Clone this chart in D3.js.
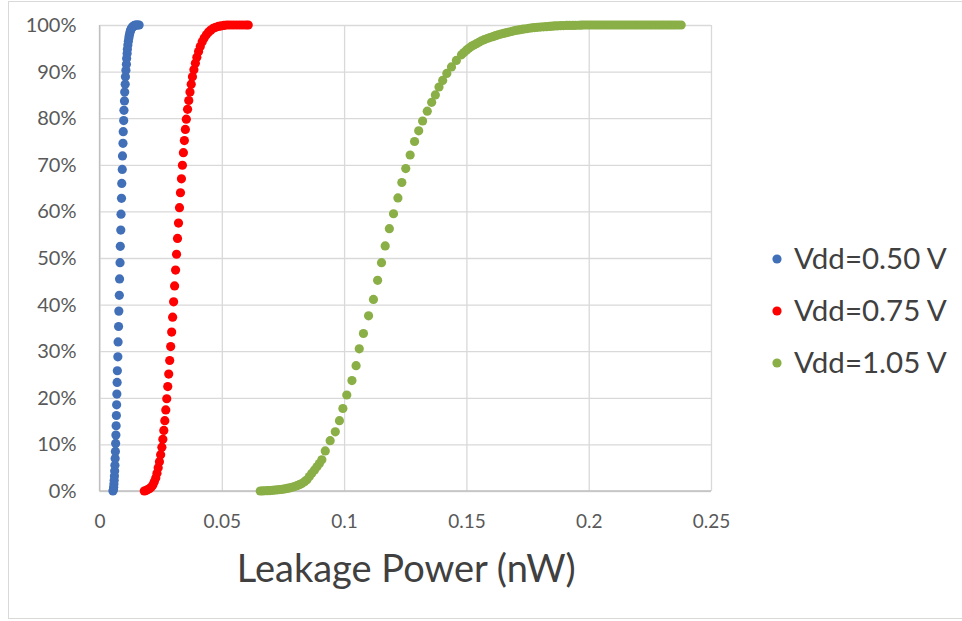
<!DOCTYPE html>
<html>
<head>
<meta charset="utf-8">
<script src="https://cdn.jsdelivr.net/npm/d3@7"></script>
<style>
  html, body { margin: 0; padding: 0; background: #fff; }
  svg { display: block; }
</style>
</head>
<body>
<svg id="chart" width="962" height="621"></svg>
<script>
// Cumulative distribution of leakage power at three supply voltages.
// Each point: [leakage power in nW, cumulative share in percent].

const seriesNames = ["Vdd=0.50 V", "Vdd=0.75 V", "Vdd=1.05 V"];
const seriesColors = ["#4270B8", "#FF0000", "#8AAF47"];

const vdd050 = [
  [0.0055,0],[0.0057,0.3],[0.0058,0.8],[0.0059,1.5],[0.0060,2.3],[0.0061,3.2],[0.0062,4.3],
  [0.0063,5.5],[0.0064,7.0],[0.0065,8.5],[0.0066,10.2],[0.0067,12.0],[0.0068,14.0],[0.0069,16.2],
  [0.0070,18.5],[0.0071,20.8],[0.0072,23.3],[0.0073,25.8],[0.0075,28.8],[0.0076,32.0],[0.0078,35.3],
  [0.0079,38.6],[0.0081,42.0],[0.0082,45.5],[0.0084,49.0],[0.0085,52.5],[0.0087,56.0],[0.0088,59.4],
  [0.0090,62.8],[0.0091,66.0],[0.0093,69.0],[0.0094,71.9],[0.0096,74.6],[0.0097,77.1],[0.0099,79.5],
  [0.0100,81.7],[0.0102,83.7],[0.0103,85.6],[0.0105,87.3],[0.0106,88.9],[0.0108,90.3],[0.0110,91.6],
  [0.0111,92.8],[0.0113,93.9],[0.0114,94.8],[0.0116,95.7],[0.0118,96.5],[0.0120,97.2],[0.0122,97.8],
  [0.0124,98.3],[0.0126,98.7],[0.0128,99.0],[0.0131,99.3],[0.0134,99.5],[0.0137,99.7],[0.0140,99.8],
  [0.0144,99.9],[0.0148,100],[0.0152,100],[0.0157,100],[0.0162,100]
];

const vdd075 = [
  [0.0183,0],[0.0190,0.1],[0.0197,0.3],[0.0204,0.5],[0.0211,0.8],[0.0218,1.3],[0.0224,2.0],
  [0.0230,2.8],[0.0235,3.8],[0.0240,5.0],[0.0245,6.3],[0.0250,7.8],[0.0255,9.4],[0.0259,11.1],
  [0.0263,13.0],[0.0267,15.1],[0.0271,17.4],[0.0275,19.8],[0.0279,22.4],[0.0283,25.1],[0.0287,28.0],
  [0.0291,31.0],[0.0295,34.1],[0.0299,37.3],[0.0303,40.6],[0.0307,44.0],[0.0311,47.4],[0.0315,50.8],
  [0.0319,54.2],[0.0323,57.5],[0.0327,60.8],[0.0331,64.0],[0.0335,67.0],[0.0339,69.9],[0.0343,72.6],
  [0.0347,75.2],[0.0351,77.6],[0.0355,79.8],[0.0360,81.9],[0.0365,83.8],[0.0370,85.6],[0.0375,87.3],
  [0.0380,88.9],[0.0386,90.4],[0.0392,91.8],[0.0398,93.1],[0.0405,94.3],[0.0412,95.4],[0.0420,96.4],
  [0.0428,97.2],[0.0437,97.9],[0.0446,98.5],[0.0455,98.9],[0.0465,99.3],[0.0475,99.5],[0.0486,99.7],
  [0.0497,99.8],[0.0509,99.9],[0.0521,100],[0.0533,100],[0.0546,100],[0.0559,100],[0.0572,100],
  [0.0585,100],[0.0598,100],[0.0608,100]
];

const vdd105 = [
  [0.0657,0],[0.0667,0.02],[0.0677,0.05],[0.0687,0.08],[0.0697,0.1],[0.0707,0.15],[0.0717,0.2],
  [0.0727,0.25],[0.0737,0.3],[0.0747,0.35],[0.0757,0.45],[0.0767,0.55],[0.0777,0.65],[0.0787,0.8],
  [0.0797,0.95],[0.0807,1.15],[0.0817,1.35],[0.0827,1.6],[0.0838,2.0],[0.0848,2.4],[0.0858,3.1],
  [0.0868,3.8],[0.0879,4.5],[0.0889,5.2],[0.0899,5.9],[0.0909,6.7],[0.0923,8.6],[0.0943,10.8],
  [0.0964,12.7],[0.0981,15.1],[0.0995,17.7],[0.1011,20.6],[0.1032,23.7],[0.1049,26.9],[0.1062,30.5],
  [0.1079,33.8],[0.1100,37.6],[0.1120,41.1],[0.1137,45.2],[0.1153,49.0],[0.1168,52.6],[0.1185,56.3],
  [0.1202,59.5],[0.1220,62.9],[0.1236,66.2],[0.1252,69.2],[0.1270,72.1],[0.1288,75.0],[0.1305,77.3],
  [0.1321,79.4],[0.1340,81.5],[0.1358,83.4],[0.1373,85.0],[0.1388,86.7],[0.1403,88.1],[0.1420,89.6],
  [0.1439,91.0],[0.1459,92.4],[0.1480,93.6],[0.1490,94.1],[0.1500,94.6],[0.1510,95.0],[0.1520,95.4],
  [0.1530,95.7],[0.1541,96.0],[0.1551,96.3],[0.1562,96.6],[0.1573,96.85],[0.1585,97.1],[0.1596,97.3],
  [0.1608,97.5],[0.1619,97.7],[0.1630,97.9],[0.1641,98.05],[0.1652,98.2],[0.1664,98.35],[0.1675,98.5],
  [0.1687,98.65],[0.1698,98.8],[0.1709,98.9],[0.1720,99.0],[0.1732,99.1],[0.1745,99.2],[0.1756,99.3],
  [0.1768,99.4],[0.1779,99.45],[0.1790,99.5],[0.1802,99.55],[0.1815,99.6],[0.1827,99.65],[0.1840,99.7],
  [0.1851,99.75],[0.1862,99.8],[0.1873,99.82],[0.1885,99.85],[0.1897,99.87],[0.1910,99.9],[0.1922,99.9],
  [0.1935,99.92],[0.1946,99.94],[0.1958,99.95],[0.1969,99.97],[0.1980,100],[0.1991,100],[0.2002,100],
  [0.2013,100],[0.2024,100],[0.2035,100],[0.2046,100],[0.2057,100],[0.2068,100],[0.2079,100],
  [0.2090,100],[0.2101,100],[0.2112,100],[0.2123,100],[0.2134,100],[0.2145,100],[0.2156,100],
  [0.2167,100],[0.2178,100],[0.2189,100],[0.2200,100],[0.2211,100],[0.2222,100],[0.2233,100],
  [0.2244,100],[0.2255,100],[0.2266,100],[0.2277,100],[0.2288,100],[0.2299,100],[0.2310,100],
  [0.2321,100],[0.2332,100],[0.2343,100],[0.2354,100],[0.2366,100],[0.2378,100]
];

const xTickValues = [0, 0.05, 0.1, 0.15, 0.2, 0.25];
const xTickLabels = ["0", "0.05", "0.1", "0.15", "0.2", "0.25"];
const yTickValues = [0, 10, 20, 30, 40, 50, 60, 70, 80, 90, 100];
const yTickLabels = ["0%", "10%", "20%", "30%", "40%", "50%", "60%", "70%", "80%", "90%", "100%"];
const xTitle = "Leakage Power (nW)";

const seriesData = [vdd050, vdd075, vdd105].map((points, i) => ({
  name: seriesNames[i], color: seriesColors[i], points
}));

const svg = d3.select("#chart");
const font = "Lato, 'Open Sans', sans-serif";

// outer chart frame
svg.append("rect")
  .attr("x", 8.5).attr("y", 1.5)
  .attr("width", 960).attr("height", 617)
  .attr("fill", "#fff").attr("stroke", "#D9D9D9").attr("stroke-width", 1);

const plot = { left: 99.5, right: 711, top: 25, bottom: 491 };
const x = d3.scaleLinear().domain([0, 0.25]).range([plot.left, plot.right]);
const y = d3.scaleLinear().domain([0, 100]).range([plot.bottom, plot.top]);

// horizontal gridlines + percentage labels
const yAxis = d3.axisLeft(y)
  .tickValues(yTickValues)
  .tickFormat((d, i) => yTickLabels[i])
  .tickSize(-(plot.right - plot.left))
  .tickPadding(23);
const gy = svg.append("g").attr("transform", `translate(${plot.left},0)`).call(yAxis);
gy.select(".domain").remove();
gy.selectAll(".tick line").attr("stroke", "#D9D9D9").attr("stroke-width", 1.3);
gy.selectAll(".tick text")
  .attr("fill", "#595959")
  .style("font-family", font)
  .style("font-size", "20px");

// vertical gridlines + power labels
const xAxis = d3.axisBottom(x)
  .tickValues(xTickValues)
  .tickFormat((d, i) => xTickLabels[i])
  .tickSize(-(plot.bottom - plot.top))
  .tickPadding(24);
const gx = svg.append("g").attr("transform", `translate(0,${plot.bottom})`).call(xAxis);
gx.select(".domain").remove();
gx.selectAll(".tick line").attr("stroke", "#D9D9D9").attr("stroke-width", 1.3);
gx.selectAll(".tick text")
  .attr("fill", "#595959")
  .style("font-family", font)
  .style("font-size", "19px");

// axis lines
svg.append("line")
  .attr("x1", plot.left).attr("x2", plot.left)
  .attr("y1", plot.top).attr("y2", plot.bottom)
  .attr("stroke", "#BFBFBF").attr("stroke-width", 1.3);
svg.append("line")
  .attr("x1", plot.left).attr("x2", plot.right)
  .attr("y1", plot.bottom).attr("y2", plot.bottom)
  .attr("stroke", "#BFBFBF").attr("stroke-width", 1.3);

// scatter markers
seriesData.forEach(s => {
  svg.append("g")
    .selectAll("circle")
    .data(s.points)
    .join("circle")
    .attr("cx", d => x(d[0]))
    .attr("cy", d => y(d[1]))
    .attr("r", 4.6)
    .attr("fill", s.color);
});

// x-axis title
svg.append("text")
  .attr("x", (x(0) + x(0.25)) / 2 + 1)
  .attr("y", 582)
  .attr("text-anchor", "middle")
  .attr("fill", "#404040")
  .style("font-family", font)
  .style("font-size", "38px")
  .text(xTitle);

// legend
const legend = svg.append("g");
seriesData.forEach((s, i) => {
  const ly = 259 + i * 52;
  legend.append("circle")
    .attr("cx", 777).attr("cy", ly).attr("r", 4.6).attr("fill", s.color);
  legend.append("text")
    .attr("x", 794).attr("y", ly + 10)
    .attr("fill", "#404040")
    .style("font-family", font)
    .style("font-size", "29.5px")
    .text(s.name);
});
</script>
</body>
</html>
